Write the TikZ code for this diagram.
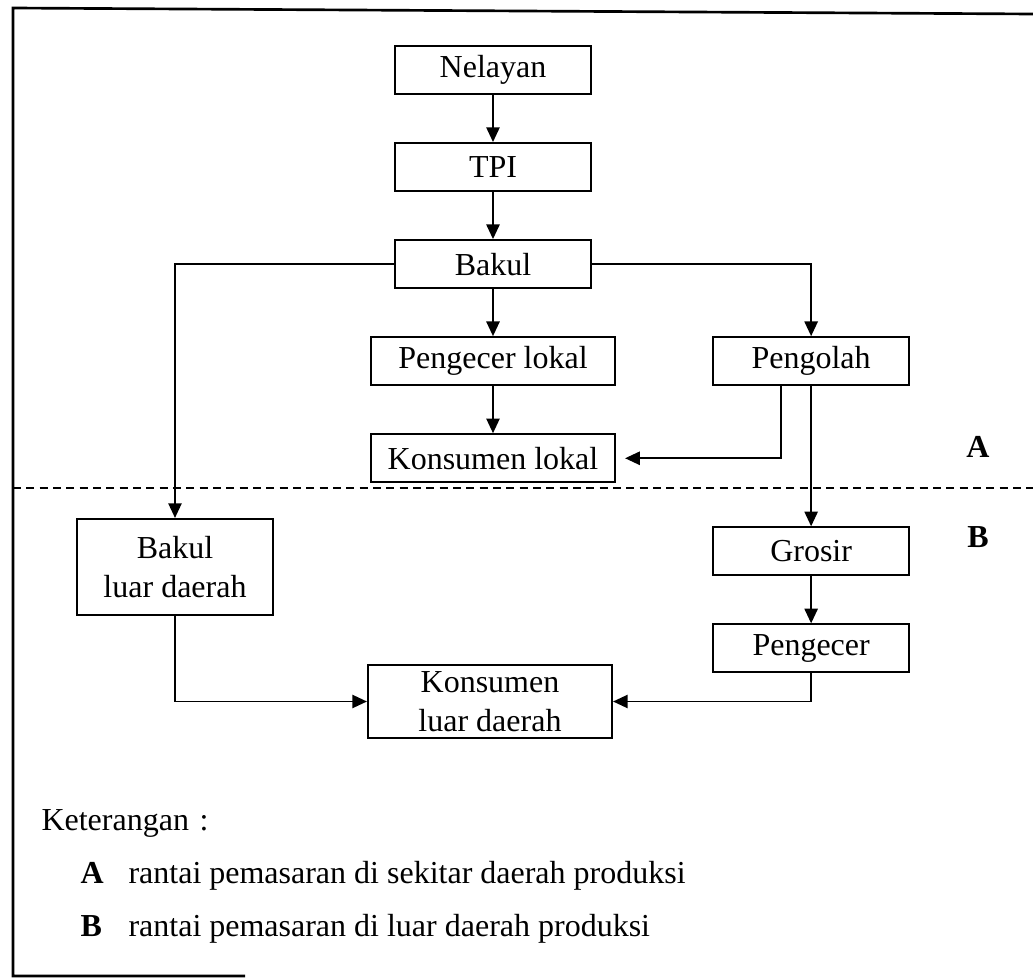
\documentclass[tikz,border=0pt]{standalone}
\usepackage{fontspec}
\setmainfont{Liberation Serif}
\usepackage{tikz}
\usetikzlibrary{positioning,arrows.meta,calc}

\begin{document}
\begin{tikzpicture}[x=0.375pt, y=-0.375pt, font=\fontsize{12}{14.5}\selectfont, node distance=17.6pt,
    box/.style={draw, line width=0.8pt, minimum width=73.5pt, minimum height=18pt, inner sep=0pt, align=center},
    widebox/.style={box, minimum width=91.5pt},
    arr/.style={-{Triangle[length=5.5pt,width=5pt]}, line width=0.6pt}]
        \useasboundingbox (0,0) rectangle (1033,978);
        % bingkai
        \draw[line width=1pt] (1033,14) -- (13,8) -- (13,976) -- (245,976);
        \draw[dashed, dash pattern=on 3pt off 2pt, line width=0.7pt] (13,488) -- (1033,488);
        % rantai utama
        \node[box] (nelayan) at (493,70) {Nelayan};
        \node[box, below=of nelayan] (tpi) {TPI};
        \node[box, below=of tpi] (bakul) {Bakul};
        \node[widebox, below=of bakul] (plokal) {Pengecer lokal};
        \node[widebox, below=of plokal] (klokal) {Konsumen lokal};
        \node[box, right=36pt of plokal] (pengolah) {Pengolah};
        \node[box, below=52.5pt of pengolah] (grosir) {Grosir};
        \node[box, below=of grosir] (pengecer) {Pengecer};
        \node[box, minimum height=36pt] (bakulluar) at (175,567) {Bakul\\luar daerah};
        \node[widebox, minimum height=27.4pt] (kluar) at (490,701.5) {Konsumen\\luar daerah};
        \draw[arr] (nelayan)--(tpi); \draw[arr] (tpi)--(bakul);
        \draw[arr] (bakul)--(plokal); \draw[arr] (plokal)--(klokal);
        \draw[arr] (bakul.west) -| (bakulluar.north);
        \draw[arr] (bakul.east) -| (pengolah.north);
        \draw[arr, shorten >=3.4pt] ($(pengolah.south)+(-30,0)$) |- (klokal.east);
        \draw[arr] (pengolah)--(grosir); \draw[arr] (grosir)--(pengecer);
        \draw[arr] (bakulluar.south) |- (kluar.west);
        \draw[arr] (pengecer.south) |- (kluar.east);
        % daerah
        \node (la) at (978,447) {\bfseries A};
        \node (lb) at (978,537) {\bfseries B};
        % keterangan
        \node[anchor=base west, inner sep=0pt] (ket) at (41,830) {Keterangan\hspace{4pt}:};
        \node[anchor=base west, inner sep=0pt] (keta) at (80,883) {\makebox[18pt][l]{\bfseries A}rantai pemasaran di sekitar daerah produksi};
        \node[anchor=base west, inner sep=0pt] (ketb) at (80,936) {\makebox[18pt][l]{\bfseries B}rantai pemasaran di luar daerah produksi};
\end{tikzpicture}
\end{document}
